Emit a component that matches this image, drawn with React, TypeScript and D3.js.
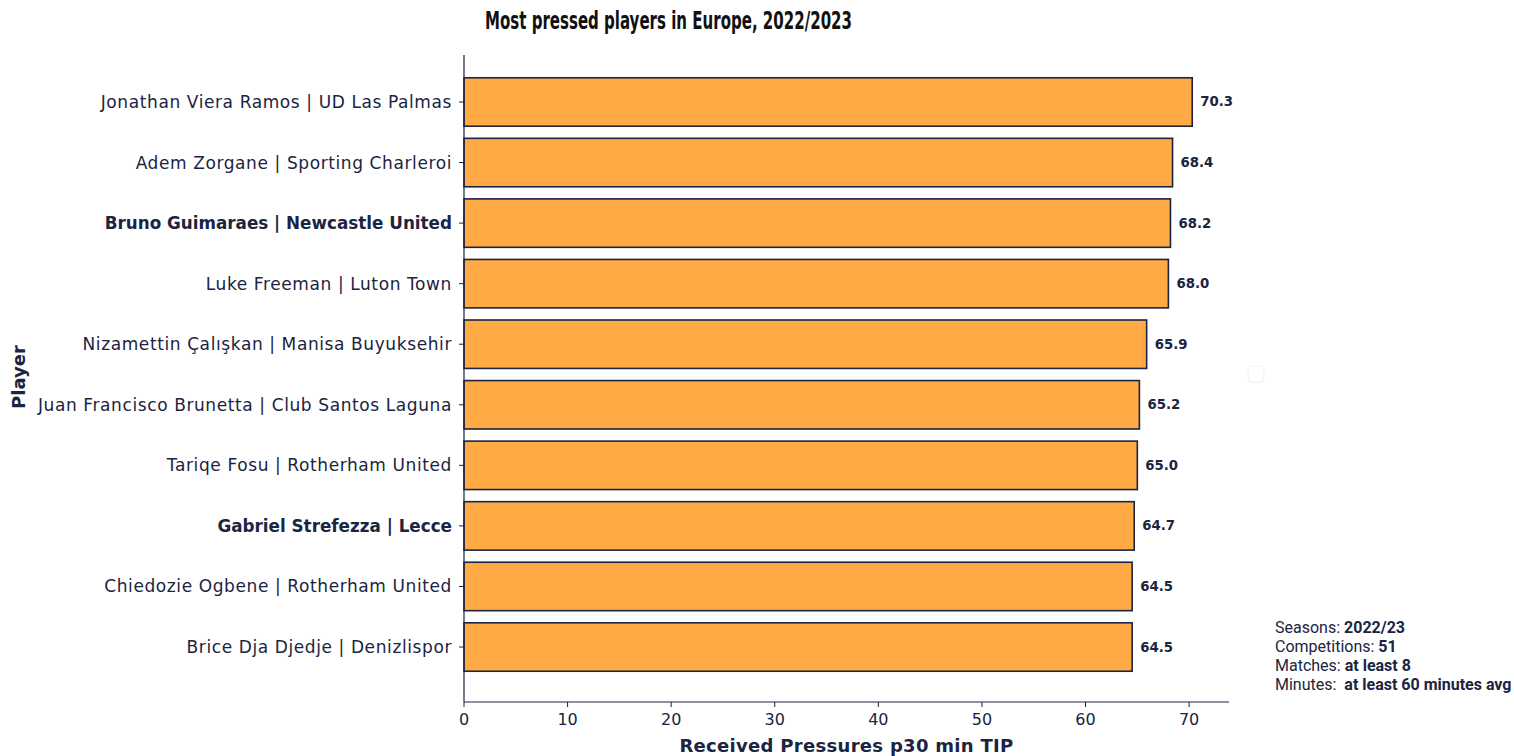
import React from "react";
import * as d3 from "d3";

const players = [
  "Jonathan Viera Ramos | UD Las Palmas",
  "Adem Zorgane | Sporting Charleroi",
  "Bruno Guimaraes | Newcastle United",
  "Luke Freeman | Luton Town",
  "Nizamettin Çalışkan | Manisa Buyuksehir",
  "Juan Francisco Brunetta | Club Santos Laguna",
  "Tariqe Fosu | Rotherham United",
  "Gabriel Strefezza | Lecce",
  "Chiedozie Ogbene | Rotherham United",
  "Brice Dja Djedje | Denizlispor",
];
const values = [70.3, 68.4, 68.2, 68.0, 65.9, 65.2, 65.0, 64.7, 64.5, 64.5];
const highlighted = ["Bruno Guimaraes | Newcastle United", "Gabriel Strefezza | Lecce"];
const xTicks = [0, 10, 20, 30, 40, 50, 60, 70];

const W = 1514;
const H = 756;
const NAVY = "#1b2440";
const ORANGE = "#ffaa44";
const LABEL_FONT = "'DejaVu Sans', sans-serif";

export default function App() {
  const left = 464;
  const right = 1229;
  const top = 55;
  const bottom = 702;
  const x = d3.scaleLinear().domain([0, 73.85]).range([left, right]);
  const y = d3.scaleLinear().domain([-0.776, 9.908]).range([top, bottom]);
  const barH = (y(1) - y(0)) * 0.8;

  return (
    <svg width={W} height={H} style={{ position: "absolute", left: 0, top: 0 }}>
      <rect width={W} height={H} fill="#fff" />
      <text x={485} y={29} textLength={367} lengthAdjust="spacingAndGlyphs" fontFamily="'Liberation Sans Narrow', 'DejaVu Sans Condensed', sans-serif" fontWeight="bold" fontSize={25} fill="#111">
        Most pressed players in Europe, 2022/2023
      </text>
      {players.map((p, i) => {
        const hl = highlighted.includes(p);
        return (
          <g key={p}>
            <rect x={x(0)} y={y(i) - barH / 2} width={x(values[i]) - x(0)} height={barH} fill={ORANGE} stroke={NAVY} strokeWidth={1.6} />
            <text x={x(values[i]) + 8} y={y(i) + 4.5} fontFamily={LABEL_FONT} fontWeight="bold" fontSize={13.3} fill={NAVY}>
              {values[i].toFixed(1)}
            </text>
            <line x1={left - 5} x2={left} y1={y(i)} y2={y(i)} stroke={NAVY} strokeWidth={1} />
            <text x={left - 12} y={y(i) + 6} textAnchor="end" fontFamily={LABEL_FONT} fontSize={hl ? 16.8 : 17} letterSpacing={hl ? 0 : 0.6} fontWeight={hl ? "bold" : "normal"} fill={NAVY}>
              {p}
            </text>
          </g>
        );
      })}
      <line x1={left} x2={left} y1={top} y2={bottom} stroke={NAVY} strokeWidth={1.2} />
      <line x1={left} x2={right} y1={bottom} y2={bottom} stroke={NAVY} strokeWidth={1.2} />
      {xTicks.map((t) => (
        <g key={t}>
          <line x1={x(t)} x2={x(t)} y1={bottom} y2={bottom + 5} stroke={NAVY} strokeWidth={1} />
          <text x={x(t)} y={bottom + 23} textAnchor="middle" fontFamily={LABEL_FONT} fontSize={16} fill={NAVY}>
            {t}
          </text>
        </g>
      ))}
      <text x={(left + right) / 2} y={752} textAnchor="middle" fontFamily={LABEL_FONT} fontWeight="bold" fontSize={18} letterSpacing={0.3} fill={NAVY}>
        Received Pressures p30 min TIP
      </text>
      <text transform={`translate(25,377) rotate(-90)`} textAnchor="middle" fontFamily={LABEL_FONT} fontWeight="bold" fontSize={18} fill={NAVY}>
        Player
      </text>
      <rect x={1248} y={366} width={16} height={16} rx={4} fill="none" stroke="#f0f0f0" strokeWidth={1} />
      <g fontFamily="Roboto, sans-serif" fontSize={16} fill={NAVY}>
        <text x={1275} y={633}>Seasons: <tspan fontWeight="bold">2022/23</tspan></text>
        <text x={1275} y={652}>Competitions: <tspan fontWeight="bold">51</tspan></text>
        <text x={1275} y={671}>Matches: <tspan fontWeight="bold">at least 8</tspan></text>
        <text x={1275} y={690} style={{ whiteSpace: "pre" }}>Minutes:  <tspan fontWeight="bold">at least 60 minutes avg</tspan></text>
      </g>
    </svg>
  );
}
